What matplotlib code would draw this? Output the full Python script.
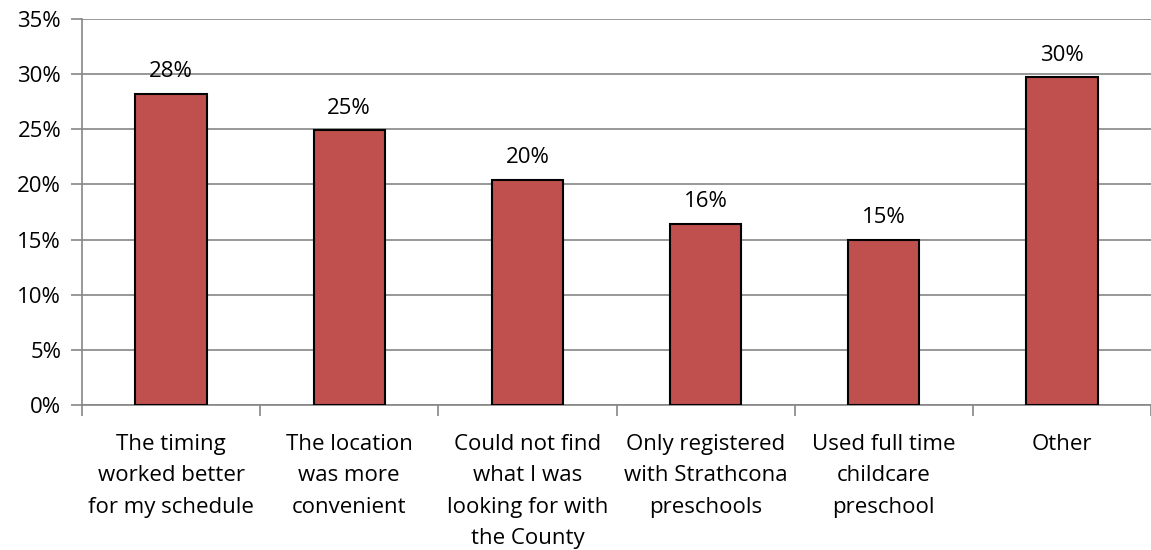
import matplotlib.pyplot as plt
from matplotlib.ticker import FuncFormatter

categories = ['The timing\nworked better\nfor my schedule',
              'The location\nwas more\nconvenient',
              'Could not find\nwhat I was\nlooking for with\nthe County',
              'Only registered\nwith Strathcona\npreschools',
              'Used full time\nchildcare\npreschool',
              'Other']
values = [28.2, 24.9, 20.4, 16.4, 15.0, 29.7]
labels = ['28%', '25%', '20%', '16%', '15%', '30%']
yticks = [0, 5, 10, 15, 20, 25, 30, 35]

plt.rcParams['font.family'] = ['Open Sans', 'DejaVu Sans']
fs = 16

fig = plt.figure(figsize=(11.51, 5.5), dpi=100)
ax = fig.add_axes([82/1151, 1-405/550, 1-82/1151, (405-19)/550])

x = list(range(len(categories)))
bars = ax.bar(x, values, width=0.4, color='#C0504D', edgecolor='black', linewidth=1.5, zorder=3)
for b, lab in zip(bars, labels):
    ax.annotate(lab, (b.get_x() + b.get_width()/2, b.get_height()),
                xytext=(0, 8.5), textcoords='offset points',
                ha='center', va='bottom', fontsize=fs, color='black')

ax.set_xlim(-0.5, len(categories) - 0.5)
ax.set_ylim(0, 35)
ax.set_yticks(yticks)
ax.yaxis.set_major_formatter(FuncFormatter(lambda v, p: '%d%%' % v))
ax.grid(axis='y', color='#868686', linewidth=1.2, zorder=0)

ax.set_xticks([i - 0.5 for i in range(len(categories) + 1)])
ax.set_xticklabels([])
ax.set_xticks(x, minor=True)
ax.set_xticklabels(categories, minor=True, fontsize=fs, linespacing=1.64)
ax.tick_params(axis='x', which='minor', length=0, pad=21)
ax.tick_params(axis='x', which='major', length=8, color='#868686', width=1.2)
ax.tick_params(axis='y', length=8, color='#868686', width=1.2, labelsize=fs, pad=7)

for s in ['top', 'right']:
    ax.spines[s].set_visible(False)
for s in ['left', 'bottom']:
    ax.spines[s].set_color('#868686')
    ax.spines[s].set_linewidth(1.2)

fig.savefig('out.png', dpi=100)
